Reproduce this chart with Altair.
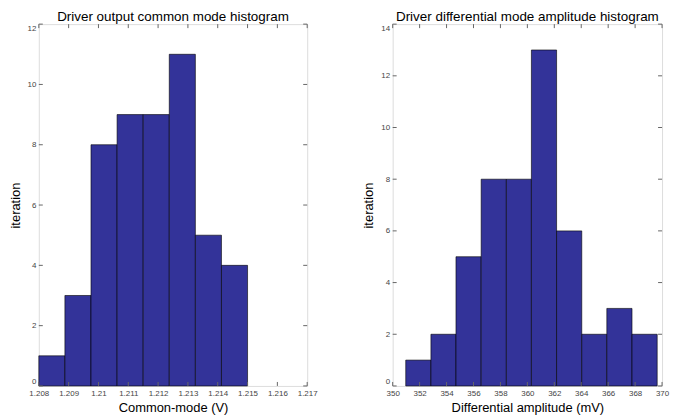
import altair as alt
import pandas as pd

# ---- data ----
cm_start = [1.208, 1.208875, 1.20975, 1.210625, 1.2115, 1.212375, 1.21325, 1.214125]
cm_end = [1.208875, 1.20975, 1.210625, 1.2115, 1.212375, 1.21325, 1.214125, 1.215]
cm_count = [1, 3, 8, 9, 9, 11, 5, 4]

dm_start = [350.97, 352.84, 354.70, 356.57, 358.44, 360.30, 362.17, 364.04, 365.90, 367.77]
dm_end = [352.84, 354.70, 356.57, 358.44, 360.30, 362.17, 364.04, 365.90, 367.77, 369.64]
dm_count = [1, 2, 5, 8, 8, 13, 6, 2, 3, 2]

cm_xticks = [1.208, 1.209, 1.210, 1.211, 1.212, 1.213, 1.214, 1.215, 1.216, 1.217]
cm_yticks = [0, 2, 4, 6, 8, 10, 12]
dm_xticks = [350, 352, 354, 356, 358, 360, 362, 364, 366, 368, 370]
dm_yticks = [0, 2, 4, 6, 8, 10, 12, 14]

BAR = "#333399"
TICK = "#666666"


def panel(starts, ends, counts, xticks, yticks, xdom, ydom, title, xtitle, w, h, fmt):
    bars_df = pd.DataFrame({"start": starts, "end": ends, "count": counts})
    xs = alt.Scale(domain=xdom, nice=False, zero=False)
    ys = alt.Scale(domain=ydom, nice=False)
    xax = alt.Axis(values=xticks, format=fmt, ticks=False, domain=False, grid=False,
                   labelOverlap=False, labelBound=False, labelFlush=False,
                   labelFontSize=8, labelColor="#444444", labelPadding=4,
                   titleFontSize=13, titleFontWeight="normal", titlePadding=4,
                   labelFont="Liberation Sans", titleFont="Liberation Sans")
    yax = alt.Axis(values=yticks, ticks=False, domain=False, grid=False,
                   labelOverlap=False, labelBound=False, labelFlush=True,
                   labelFontSize=8, labelColor="#444444", labelPadding=3,
                   titleFontSize=13, titleFontWeight="normal", titlePadding=5,
                   labelFont="Liberation Sans", titleFont="Liberation Sans")
    bars = alt.Chart(bars_df).mark_rect(color=BAR, stroke="#000000", strokeWidth=0.6).encode(
        x=alt.X("start:Q", scale=xs, title=xtitle, axis=xax),
        x2="end:Q",
        y=alt.Y("count:Q", scale=ys, title="iteration", axis=yax),
        y2=alt.datum(0),
    )
    xt = pd.DataFrame({"v": xticks})
    yt = pd.DataFrame({"v": yticks})
    xbot = alt.Chart(xt).mark_rule(color=TICK).encode(
        x=alt.X("v:Q", scale=xs, title=xtitle, axis=xax), y=alt.value(h), y2=alt.value(h - 4))
    xtop = alt.Chart(xt).mark_rule(color=TICK).encode(
        x=alt.X("v:Q", scale=xs, title=xtitle, axis=xax), y=alt.value(0), y2=alt.value(4))
    yleft = alt.Chart(yt).mark_rule(color=TICK).encode(
        y=alt.Y("v:Q", scale=ys, title="iteration", axis=yax), x=alt.value(0), x2=alt.value(4))
    yright = alt.Chart(yt).mark_rule(color=TICK).encode(
        y=alt.Y("v:Q", scale=ys, title="iteration", axis=yax), x=alt.value(w), x2=alt.value(w - 4))
    return alt.layer(bars, xbot, xtop, yleft, yright).properties(
        width=w, height=h,
        title=alt.TitleParams(title, fontSize=13.5, fontWeight="normal", font="Liberation Sans",
                              offset=0, anchor="middle"),
    )


left = panel(cm_start, cm_end, cm_count, cm_xticks, cm_yticks, [1.208, 1.217], [0, 12],
             "Driver output common mode histogram", "Common-mode (V)", 270, 364, ".3~f")
right = panel(dm_start, dm_end, dm_count, dm_xticks, dm_yticks, [350, 370], [0, 14],
              "Driver differential mode amplitude histogram", "Differential amplitude (mV)", 271, 364, "d")

chart = alt.hconcat(left, right, spacing=86, bounds="flush").properties(padding=0).configure_view(
    stroke="#555555", strokeWidth=1
).configure(background="white")

chart.save("out.html", embed_options={"renderer": "svg", "actions": False})
